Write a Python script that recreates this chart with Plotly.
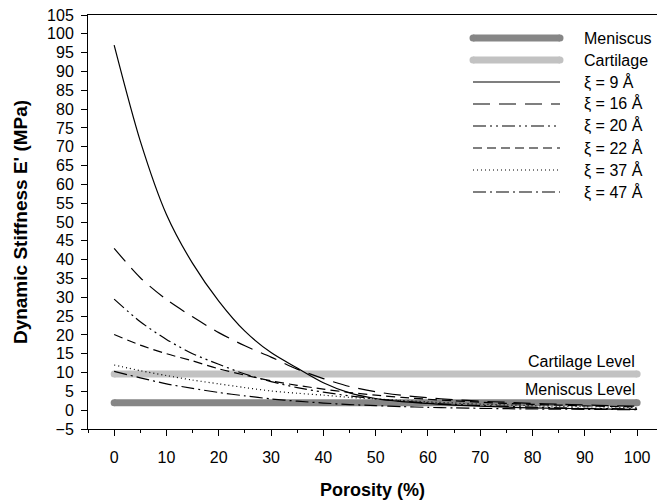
import plotly.graph_objects as go

# Porosity sampling (%) and dynamic stiffness E' (MPa) for each pore size
porosity = [0, 5, 10, 15, 20, 25, 30, 35, 40, 45, 50, 55, 60, 65, 70, 75, 80, 85, 90, 95, 100]
xi_9 = [97, 71.5, 52, 39, 29, 21, 15.3, 11.2, 7.3, 4.6, 3.1, 2.3, 1.8, 1.35, 1.05, 0.8, 0.62, 0.5, 0.4, 0.3, 0.22]
xi_16 = [43, 35.2, 29.4, 24.8, 20.6, 17.1, 14.1, 10.9, 8.4, 6.3, 4.9, 3.95, 3.3, 2.8, 2.4, 2.1, 1.8, 1.6, 1.4, 1.2, 1.05]
xi_20 = [29.5, 23.5, 18.8, 15.0, 12.2, 9.6, 7.6, 6.0, 4.8, 3.8, 3.0, 2.4, 1.9, 1.5, 1.2, 1.0, 0.8, 0.65, 0.5, 0.4, 0.35]
xi_22 = [20.1, 17.3, 15.0, 13.1, 11.0, 9.3, 7.8, 6.6, 5.6, 4.7, 4.0, 3.4, 2.9, 2.5, 2.1, 1.8, 1.55, 1.35, 1.15, 1.0, 0.85]
xi_37 = [12, 10.5, 9.2, 8.0, 7.0, 6.0, 5.1, 4.5, 4.0, 3.4, 3.0, 2.6, 2.2, 1.9, 1.6, 1.4, 1.2, 1.0, 0.9, 0.8, 0.7]
xi_47 = [10.3, 8.6, 7.0, 5.8, 4.7, 3.8, 3.0, 2.4, 1.9, 1.5, 1.2, 0.95, 0.75, 0.6, 0.5, 0.4, 0.33, 0.27, 0.22, 0.18, 0.15]

# Reference tissue levels (MPa)
level_x = [0, 100]
meniscus_level = 2.0
cartilage_level = 9.6

series_names = ["\u03be = 9 \u00c5", "\u03be = 16 \u00c5", "\u03be = 20 \u00c5",
                "\u03be = 22 \u00c5", "\u03be = 37 \u00c5", "\u03be = 47 \u00c5"]
series_values = [xi_9, xi_16, xi_20, xi_22, xi_37, xi_47]
series_dash = ["solid", "17px,9px", "13px,4px,2px,4px,2px,4px", "9px,5px", "1px,3px", "13px,4px,2px,4px"]

MENISCUS_COLOR = "#868686"
CARTILAGE_COLOR = "#c2c2c2"
FONT = "Liberation Sans, Arial, sans-serif"

W, H = 657, 502
L, R, T, B = 88, 657, 15, 429  # plot area in pixels

fig = go.Figure()

for yval, col in [(meniscus_level, MENISCUS_COLOR), (cartilage_level, CARTILAGE_COLOR)]:
    fig.add_trace(go.Scatter(
        x=level_x, y=[yval] * len(level_x), mode="lines+markers",
        line=dict(color=col, width=7), marker=dict(color=col, size=7),
        showlegend=False, hoverinfo="skip"))

for name, vals, dash in zip(series_names, series_values, series_dash):
    fig.add_trace(go.Scatter(
        x=porosity, y=vals, mode="lines", name=name,
        line=dict(color="black", width=1.2, dash=dash, shape="spline", smoothing=0.8),
        showlegend=False))

# Level captions
fig.add_annotation(x=100, y=13.0, text="Cartilage Level", showarrow=False,
                   xanchor="right", yanchor="middle", font=dict(size=16, color="black", family=FONT))
fig.add_annotation(x=100, y=5.4, text="Meniscus Level", showarrow=False,
                   xanchor="right", yanchor="middle", font=dict(size=16, color="black", family=FONT))

# Legend key drawn in paper coordinates
def px(xp):
    return (xp - L) / (R - L)

def py(yp):
    return (B - yp) / (B - T)

legend_rows = [("Meniscus", MENISCUS_COLOR, 7, "solid"),
               ("Cartilage", CARTILAGE_COLOR, 7, "solid")] + \
              [(n, "black", 1.2, d) for n, d in zip(series_names, series_dash)]
x0, x1, xt = 473, 560, 582
for i, (label, col, w, dash) in enumerate(legend_rows):
    yrow = 38 + 22 * i
    fig.add_shape(type="line", xref="paper", yref="paper",
                  x0=px(x0), x1=px(x1), y0=py(yrow), y1=py(yrow),
                  line=dict(color=col, width=w, dash=dash))
    if w > 3:
        for xc in (x0, x1):
            fig.add_shape(type="circle", xref="paper", yref="paper",
                          x0=px(xc - 3.5), x1=px(xc + 3.5), y0=py(yrow + 3.5), y1=py(yrow - 3.5),
                          line=dict(width=0), fillcolor=col)
    fig.add_annotation(xref="paper", yref="paper", x=px(xt), y=py(yrow), text=label,
                       showarrow=False, xanchor="left", yanchor="middle",
                       font=dict(size=16, color="black", family=FONT))

fig.update_layout(
    width=W, height=H,
    margin=dict(l=L, r=W - R, t=T, b=H - B),
    paper_bgcolor="white", plot_bgcolor="white",
    font=dict(family=FONT, size=16, color="black"),
    showlegend=False,
)

fig.update_xaxes(
    range=[-5, 103.8], tickmode="array", tickvals=list(range(0, 101, 10)),
    ticks="outside", ticklen=6, tickwidth=1, tickcolor="black",
    minor=dict(tickmode="array", tickvals=list(range(-5, 101, 10)), ticks="outside", ticklen=3, tickcolor="black"),
    showline=True, linecolor="black", linewidth=1, mirror=True,
    showgrid=False, zeroline=False, ticklabelstandoff=8,
    tickfont=dict(size=16, family=FONT, color="black"),
    title=dict(text="<b>Porosity (%)</b>", font=dict(size=18, family=FONT, color="black"), standoff=18),
)
fig.update_yaxes(
    range=[-5, 105], tickmode="array", tickvals=list(range(-5, 106, 5)),
    ticks="outside", ticklen=6, tickwidth=1, tickcolor="black",
    showline=True, linecolor="black", linewidth=1,
    showgrid=False, zeroline=False, ticklabelstandoff=4,
    tickfont=dict(size=16, family=FONT, color="black"),
    title=dict(text="<b>Dynamic Stiffness E' (MPa)</b>", font=dict(size=19, family=FONT, color="black"), standoff=14),
)

fig.write_html("out.html")
